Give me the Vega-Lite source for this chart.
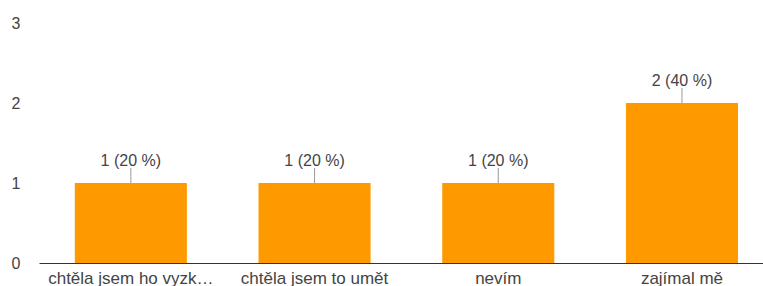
{
  "$schema": "https://vega.github.io/schema/vega-lite/v6.json",
  "autosize": {"type": "none"},
  "width": 724,
  "height": 240,
  "padding": {"left": 39, "top": 23, "right": 0, "bottom": 23},
  "background": "white",
  "config": {
    "view": {"stroke": null},
    "font": "Liberation Sans",
    "axis": {"labelFont": "Liberation Sans", "labelFontSize": 16, "labelColor": "#444444", "grid": false, "ticks": false, "title": null}
  },
  "data": {
    "values": [
      {"odpoved": "chtěla jsem ho vyzk…", "pocet": 1, "popisek": "1 (20 %)"},
      {"odpoved": "chtěla jsem to umět", "pocet": 1, "popisek": "1 (20 %)"},
      {"odpoved": "nevím", "pocet": 1, "popisek": "1 (20 %)"},
      {"odpoved": "zajímal mě", "pocet": 2, "popisek": "2 (40 %)"}
    ]
  },
  "encoding": {
    "x": {
      "field": "odpoved", "type": "nominal", "sort": null,
      "scale": {"paddingInner": 0.39, "paddingOuter": 0.1655, "align": 0.589},
      "axis": {"labelAngle": 0, "domain": true, "domainColor": "#333333", "domainWidth": 1, "labelPadding": 7, "labelLimit": 0, "labelFontSize": 17}
    },
    "y": {
      "field": "pocet", "type": "quantitative",
      "scale": {"domain": [0, 3], "nice": false, "zero": true},
      "axis": {"values": [0, 1, 2, 3], "domain": false, "labelAlign": "right", "labelPadding": 19, "labelBaseline": "middle"}
    }
  },
  "layer": [
    {"mark": {"type": "bar", "color": "#FF9900"}},
    {
      "mark": {"type": "rule", "color": "#999999", "strokeWidth": 1, "y2Offset": -15},
      "encoding": {"y2": {"field": "pocet"}}
    },
    {
      "mark": {"type": "text", "baseline": "alphabetic", "dy": -17, "fontSize": 16, "color": "#444444", "font": "Liberation Sans"},
      "encoding": {"text": {"field": "popisek"}}
    }
  ]
}
